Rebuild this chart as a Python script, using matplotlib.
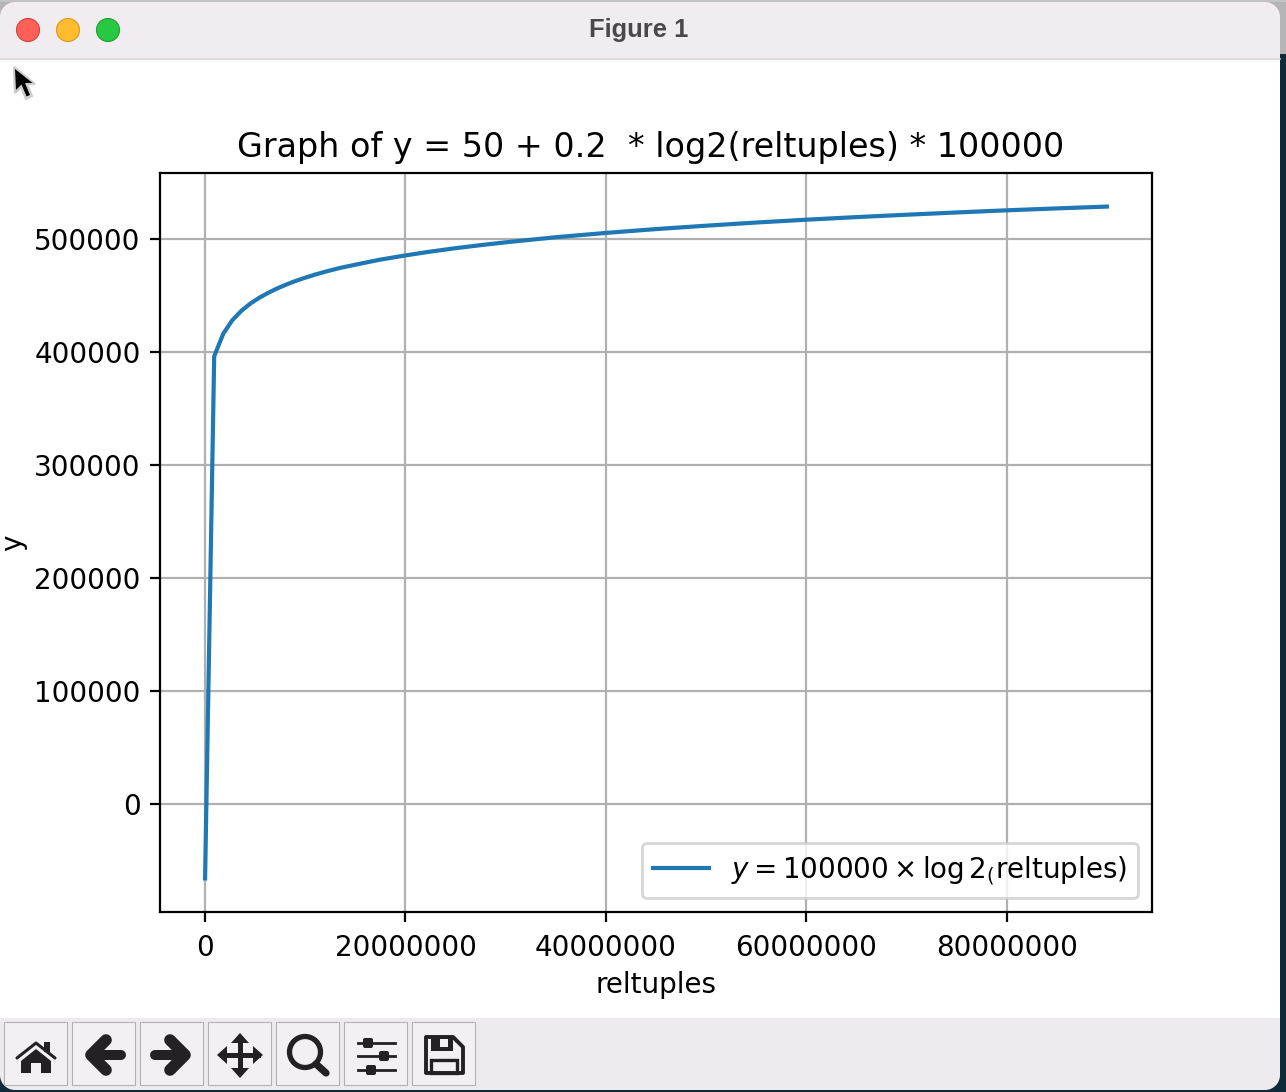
import matplotlib
matplotlib.use("Agg")
import numpy as np
import matplotlib.pyplot as plt
from matplotlib.patches import Circle, Polygon, Rectangle, FancyBboxPatch

# Values
reltuples = [0.1, 909000, 1818000, 2727000, 3636000, 4545000, 5455000, 6364000, 7273000,
             8182000, 9091000, 10000000, 11000000, 12000000, 13500000, 15000000, 17500000,
             20000000, 22500000, 25000000, 27500000, 30000000, 35000000,
             40000000, 45000000, 50000000, 55000000, 60000000, 65000000, 70000000, 75000000,
             80000000, 85000000, 90000000]
y_values = [-66000, 396000, 416000, 428000, 436300, 442800, 448000, 452400, 456300,
            459700, 462800, 465500, 468300, 470800, 474200, 477000, 481500,
            485200, 488600, 491600, 494300, 496800, 501300,
            505100, 508500, 511500, 514300, 516800, 519100, 521200, 523200,
            525100, 526800, 528400]
title_text = "Graph of y = 50 + 0.2  * log2(reltuples) * 100000"
legend_text = r"$y = 100000 \times \log2_(\mathrm{reltuples})$"
x_label = "reltuples"
y_label = "y"
window_title = "Figure 1"

W, H = 1286, 1092
DPI = 200
fig = plt.figure(figsize=(W / DPI, H / DPI), dpi=DPI, facecolor="white")

ax = fig.add_axes([160 / W, 1 - 912 / H, 992 / W, 739 / H])
ax.plot(reltuples, y_values, color="#1f77b4", label=legend_text)
ax.ticklabel_format(style="plain", axis="both", useOffset=False)
ax.tick_params(axis="x", pad=4.4)
ax.set_title(title_text, fontsize=12, x=0.4945, pad=5.7)
ax.set_xlabel(x_label, labelpad=3.3)
ax.set_ylabel(y_label, labelpad=2.6)
ax.grid(True)
ax.legend(loc="lower right")

# Window decoration, in pixel coordinates
ov = fig.add_axes([0, 0, 1, 1], zorder=10)
ov.set_xlim(0, W)
ov.set_ylim(H, 0)
ov.axis("off")
ov.patch.set_alpha(0)
BAR = "#f0ecf0"
INK = "#232124"
BTN = "#f2f0f3"
DARK = "#0f2a38"
GREY = "#b4b4b6"


def corner(cx, cy, r, a0, a1, tip, color):
    t = np.radians(np.linspace(a0, a1, 16))
    pts = list(zip(cx + r * np.cos(t), cy + r * np.sin(t))) + [tip]
    ov.add_patch(Polygon(pts, fc=color, ec="none"))


ov.add_patch(Rectangle((0, 0), W, 58, fc=BAR, ec="none"))
ov.plot([0, 1280], [58.5, 58.5], color="#d6d3d6", lw=0.6)
for cx, c, e in [(28, "#fe5f57", "#c9473f"), (68, "#febc2e", "#d69a20"), (108, "#28c840", "#1fa030")]:
    ov.add_patch(Circle((cx, 30), 11.5, fc=c, ec=e, lw=0.4))
ov.text(639, 29.5, window_title, ha="center", va="center", fontsize=9.2,
        family="Liberation Sans", weight="bold", color="#4a484b")
ov.add_patch(Polygon([(14, 67), (15, 93), (21, 87), (26, 99), (32, 96), (27, 84), (35, 84)],
                     fc="#dddddd", ec="#cccccc", lw=0.8))
ov.add_patch(Polygon([(15, 69), (16, 90), (21.5, 84.5), (26.5, 96.5), (30, 95), (25, 83), (32.5, 83)],
                     fc="black", ec="none"))

ov.add_patch(Rectangle((0, 1018), W, 72, fc="#eeebef", ec="none"))
ov.add_patch(Rectangle((1280, 0), 6, 54, fc=GREY, ec="none"))
ov.add_patch(Rectangle((1280, 54), 6, 1038, fc=DARK, ec="none"))
ov.add_patch(Rectangle((0, 1090), W, 2, fc=DARK, ec="none"))
ov.add_patch(Rectangle((0, 0), W, 2, fc="#c4c4c6", ec="none"))
corner(15, 17, 15, 180, 270, (0, 2), GREY)
corner(1265, 17, 15, 270, 360, (1280, 2), GREY)
corner(15, 1075, 15, 90, 180, (0, 1090), DARK)
corner(1265, 1075, 15, 0, 90, (1280, 1090), DARK)

for bx in [4, 72, 140, 208, 276, 344, 412]:
    ov.add_patch(Rectangle((bx, 1022), 63, 63, fc=BTN, ec="#b4b2b5", lw=0.4))

# home
ov.plot([17, 36, 55], [1058, 1043, 1058], color=INK, lw=1.1, solid_capstyle="round")
ov.add_patch(Rectangle((44, 1042), 6, 10, fc=INK, ec="none"))
ov.add_patch(Polygon([(36, 1049), (51, 1061), (51, 1073), (41, 1073), (41, 1063), (31, 1063), (31, 1073), (21, 1073), (21, 1061)],
                     fc=INK, ec="none"))
# arrows
ov.plot([92, 121], [1055, 1055], color=INK, lw=3.6, solid_capstyle="round")
ov.plot([106, 91, 106], [1040, 1055, 1070], color=INK, lw=4.2, solid_capstyle="round", solid_joinstyle="round")
ov.plot([155, 184], [1055, 1055], color=INK, lw=3.6, solid_capstyle="round")
ov.plot([170, 185, 170], [1040, 1055, 1070], color=INK, lw=4.2, solid_capstyle="round", solid_joinstyle="round")
# move
ov.plot([222, 258], [1055, 1055], color=INK, lw=1.8)
ov.plot([240, 240], [1038, 1072], color=INK, lw=1.8)
for p in [[(240, 1033), (231, 1043), (249, 1043)], [(240, 1078), (231, 1068), (249, 1068)],
          [(217, 1055), (227, 1046), (227, 1064)], [(263, 1055), (253, 1046), (253, 1064)]]:
    ov.add_patch(Polygon(p, fc=INK, ec="none", joinstyle="round"))
# zoom
ov.add_patch(Circle((305, 1052), 15.5, fc="none", ec=INK, lw=1.9))
ov.plot([316, 326], [1064, 1073], color=INK, lw=2.6, solid_capstyle="round")
# sliders
for yy, xx in [(1043, 368), (1056, 384), (1070, 371)]:
    ov.plot([358, 395], [yy, yy], color=INK, lw=1.0)
    ov.add_patch(FancyBboxPatch((xx - 3.5, yy - 3.5), 7, 7, boxstyle="round,pad=1.5,rounding_size=2", fc=INK, ec="none"))
# save
ov.add_patch(Polygon([(426, 1037), (453, 1037), (463, 1047), (463, 1073), (426, 1073)], fc="none", ec=INK, lw=1.4, joinstyle="round"))
ov.add_patch(Rectangle((431, 1037), 22, 14, fc=INK, ec="none"))
ov.add_patch(Rectangle((440, 1039), 8, 8, fc=BTN, ec="none"))
ov.add_patch(Rectangle((431, 1060), 26, 13, fc="none", ec=INK, lw=1.2))

fig.savefig("out.png", dpi=DPI)
